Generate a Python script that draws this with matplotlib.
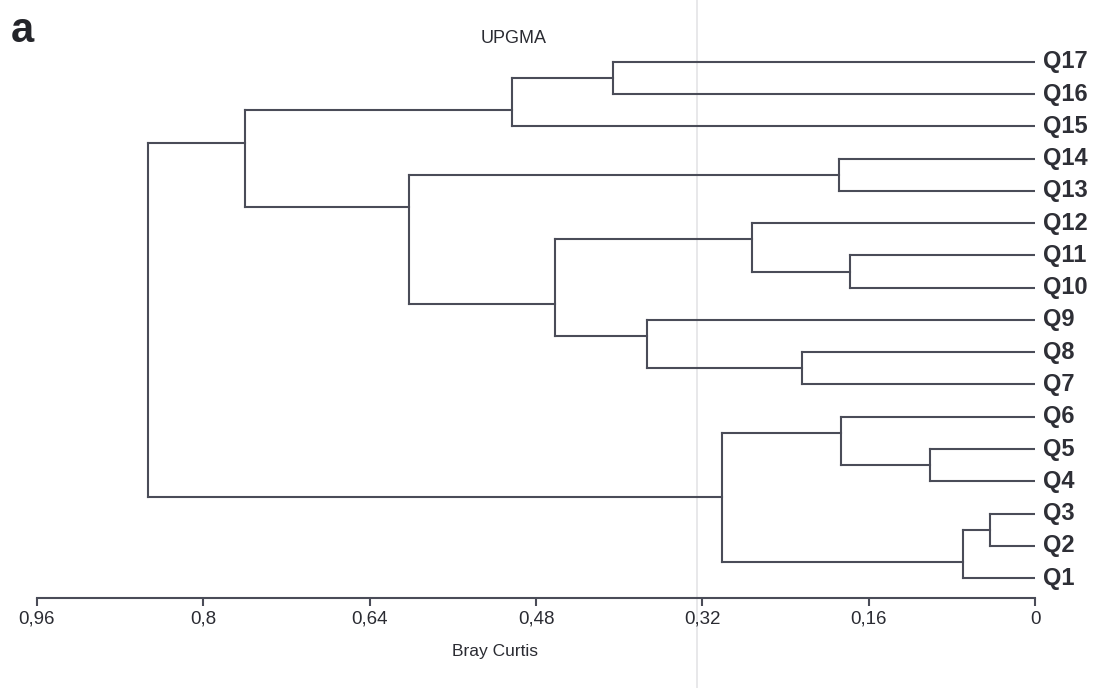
import matplotlib.pyplot as plt
from matplotlib.lines import Line2D

# leaves, listed top to bottom as they appear in the tree
labels = ["Q17", "Q16", "Q15", "Q14", "Q13", "Q12", "Q11", "Q10", "Q9",
          "Q8", "Q7", "Q6", "Q5", "Q4", "Q3", "Q2", "Q1"]

# UPGMA merges: (new cluster, upper child, lower child, Bray-Curtis distance)
merges = [
    ("A", "Q17", "Q16", 0.406),
    ("B", "A", "Q15", 0.503),
    ("C", "Q14", "Q13", 0.189),
    ("H", "Q11", "Q10", 0.178),
    ("F", "Q12", "H", 0.272),
    ("I", "Q8", "Q7", 0.224),
    ("G", "Q9", "I", 0.373),
    ("E", "F", "G", 0.462),
    ("D", "C", "E", 0.602),
    ("J", "B", "D", 0.760),
    ("N", "Q5", "Q4", 0.101),
    ("L", "Q6", "N", 0.187),
    ("O", "Q3", "Q2", 0.043),
    ("M", "O", "Q1", 0.069),
    ("K", "L", "M", 0.301),
    ("root", "J", "K", 0.853),
]

tick_vals = [0.96, 0.8, 0.64, 0.48, 0.32, 0.16, 0]
tick_labels = ["0,96", "0,8", "0,64", "0,48", "0,32", "0,16", "0"]

line_col = "#4a4c58"
lw = 1.5

plt.rcParams['font.family'] = ['Liberation Sans', 'DejaVu Sans']

fig = plt.figure(figsize=(10.94, 6.88), dpi=100)
ax = fig.add_axes([0.0338, 0.1308, 0.9123, 0.8111])
ax.patch.set_alpha(0)

# node info: height, y of connector, first and last leaf row
nodes = {}
for i, name in enumerate(labels):
    nodes[name] = {"h": 0.0, "y": i, "first": i, "last": i}

for name, up, low, h in merges:
    a, b = nodes[up], nodes[low]
    ax.plot([h, h], [a["y"], b["y"]], color=line_col, lw=lw, solid_capstyle="projecting")
    ax.plot([h, a["h"]], [a["y"], a["y"]], color=line_col, lw=lw)
    ax.plot([h, b["h"]], [b["y"], b["y"]], color=line_col, lw=lw)
    # connector sits on the boundary between the two child groups
    nodes[name] = {"h": h, "y": (a["last"] + b["first"]) / 2,
                   "first": a["first"], "last": b["last"]}

for i, name in enumerate(labels):
    ax.annotate(name, xy=(0, i), xytext=(5.5, 0), textcoords="offset points",
                ha="left", va="center", fontsize=17, fontweight="bold",
                color="#2e2f36", annotation_clip=False)

ax.set_xlim(0.96, 0)
ax.set_ylim(16.62, -0.682)
ax.set_yticks([])
for s in ["top", "left", "right"]:
    ax.spines[s].set_visible(False)
ax.spines["bottom"].set_color(line_col)
ax.spines["bottom"].set_linewidth(lw)
ax.set_xticks(tick_vals)
ax.set_xticklabels(tick_labels)
ax.tick_params(axis="x", direction="out", length=6, width=lw, color=line_col,
               labelsize=13.5, labelcolor="#2a2b32", pad=3)

fig.text(0.4698, 0.944, "UPGMA", ha="center", va="center", fontsize=13, color="#2a2b32")
fig.text(0.0201, 0.955, "a", ha="center", va="center", fontsize=30,
         fontweight="bold", color="#24252a")
fig.text(0.4525, 0.053, "Bray Curtis", ha="center", va="center", fontsize=12.5,
         color="#2a2b32")

# faint fold line across the sheet
fig.add_artist(Line2D([0.637, 0.637], [0, 1], transform=fig.transFigure,
                      color="#e4e4e6", lw=1.2, zorder=0))

fig.savefig("out.png", dpi=100)
